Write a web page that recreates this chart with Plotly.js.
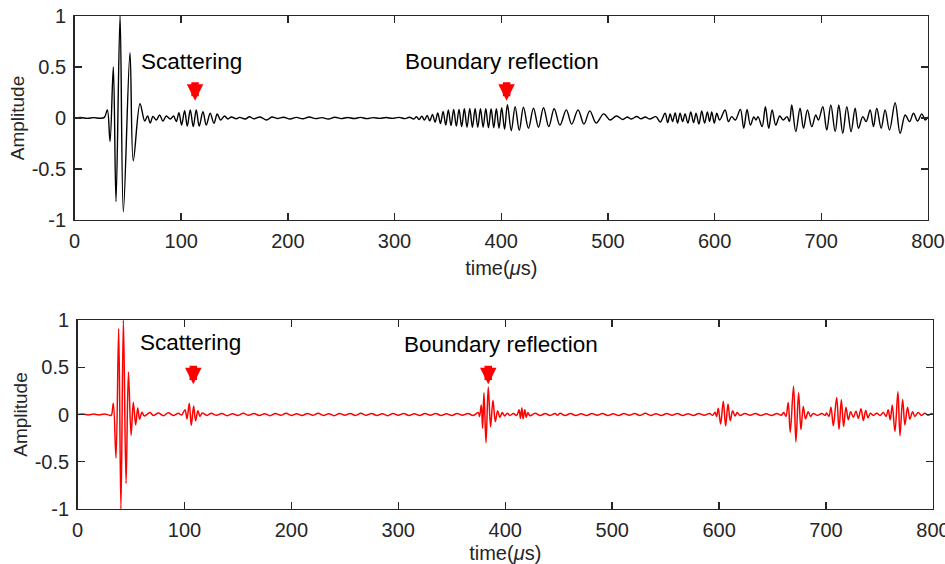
<!DOCTYPE html>
<html><head><meta charset="utf-8">
<script src="https://cdn.plot.ly/plotly-3.0.1.min.js"></script>
<style>html,body{margin:0;padding:0;background:#fff}#chart{width:945px;height:564px}</style>
</head><body><div id="chart"></div>
<script>
// ---- data: waveform extrema, [time (µs), amplitude] ----
const topOnset = [[0,0],[6,0.005],[12,-0.004],[18,0.004],[24,-0.003],[28,0.006],[30.8,0.08],[33.3,-0.23],[36.4,0.5],[38.9,-0.82],[42.7,1.0],[45.8,-0.92],[52,0.64],[55.1,-0.42],[61.4,0.14],[65.8,-0.03],[68.5,0.02],[71,-0.05],[73.5,0.015],[76.7,-0.02],[79.8,0.03],[82.9,-0.03],[86,0.02],[89.8,-0.01],[92.9,0.02],[95.4,-0.035]];
const topScatter = [[97.9,0.052],[100.4,-0.069],[103.2,0.072],[105.7,-0.078],[108.5,0.078],[111.3,-0.085],[114.1,0.078],[116.9,-0.08],[120.4,0.062],[123.5,-0.07],[127.2,0.046],[130.7,-0.052],[133.8,0.039],[136.9,-0.02],[140.6,0.02],[143.8,-0.01],[147,0.01],[151.6,-0.008],[154.7,0.006]];
const topQuiet = [[160,-0.01],[164,0.012],[168,-0.008],[174,0.01],[180,-0.02],[185,0.01],[190,-0.005],[196,0.008],[202,-0.01],[208,0.006],[214,-0.008],[220,0.01],[226,-0.006],[232,0.004],[238,-0.01],[244,0.008],[250,-0.006],[256,0.005],[262,-0.005],[268,0.006],[274,-0.006],[280,0.004],[286,-0.004],[292,0.005],[298,-0.004],[304,0.006],[310,-0.006],[314,0.008],[318,-0.01],[320.5,0.012],[323,-0.015],[325.5,0.018],[328,-0.02],[330.5,0.025],[333,-0.028],[335.5,0.035],[338,-0.04],[340.5,0.05],[343,-0.055],[345.5,0.065],[348,-0.07]];
const topBoundary = [[350.4,0.08],[352.9,-0.075],[355.4,0.085],[357.9,-0.08],[360.4,0.085],[362.9,-0.085],[365.4,0.09],[367.9,-0.09],[370.5,0.09],[373,-0.09],[375.5,0.09],[378,-0.09],[380.5,0.09],[383,-0.09],[385.5,0.09],[388,-0.095],[390.5,0.09],[393,-0.095],[395.4,0.09],[397.9,-0.1],[400.4,0.1],[403.1,-0.11],[405.8,0.13],[409.4,-0.125],[413,0.11],[416.9,-0.12],[420.8,0.105],[425.5,-0.1],[430.2,0.095],[434.9,-0.09],[439.6,0.1],[444.6,-0.085],[449.6,0.09],[455,-0.07],[461,0.08],[466,-0.06],[472,0.08],[477.5,-0.06],[483,0.07],[489,-0.05],[496,0.04],[502,-0.02],[508,0.02],[514,-0.015]];
const topLate = [[518,0.01],[522,-0.01],[527,0.015],[531,-0.008],[535,0.01],[539,-0.01],[545,0.013],[549,-0.04],[553.6,0.046],[556,-0.045],[558.3,0.04],[560.6,-0.035],[563,0.05],[565.3,-0.05],[567.6,0.046],[570,-0.035],[572.3,0.04],[575,-0.05],[577.6,0.06],[580.3,-0.045],[582.6,0.046],[585.3,-0.06],[587.9,0.07],[590.6,-0.05],[593.2,0.06],[595.3,-0.035],[597.3,0.06],[599.7,-0.05],[602,0.046],[604.7,-0.02],[609.8,0.078],[613,-0.035],[616,0.013],[619.4,-0.02],[624.1,0.085],[627.3,-0.1],[630.4,0.085],[633.5,-0.07],[636.7,0.01],[638.8,-0.02],[640.7,0.013],[644.5,-0.085],[647.6,0.11],[650.7,-0.1],[653.9,0.078],[657.3,-0.07],[661,0.02],[664.2,-0.02],[667.9,0.013],[670.1,-0.035],[672.3,0.127],[676.1,-0.134],[680.1,0.095],[683.3,-0.1],[687,0.078],[691.1,-0.085],[694.8,0.03],[697.3,-0.02],[701.4,0.11],[705.1,-0.118],[708.9,0.127],[713,-0.134],[716.4,0.127],[720.1,-0.15],[723.9,0.11],[727.9,-0.134],[731.7,0.095],[734.8,-0.1],[738.9,0.013],[742,-0.035],[745.8,0.078],[748.9,-0.085],[752,0.095],[756.1,-0.1],[759.8,0.078],[763.9,-0.118],[769.2,0.15],[773.9,-0.15],[778.6,0.03],[782.7,-0.035],[786.4,0.046],[790.2,-0.03],[794.2,0.04],[797.4,-0.02],[800,0.01]];

const botOnset = [[0,0],[5,0.004],[10,-0.004],[15,0.005],[20,-0.004],[25,0.004],[29,-0.004],[31.5,-0.01],[33.5,0.12],[36.0,-0.46],[38.5,0.91],[40.6,-1.0],[42.9,1.0],[45.4,-0.73],[47.6,0.45],[50.1,-0.22],[52.2,0.13],[54.4,-0.11],[56.3,0.07],[58.1,-0.05],[60.3,0.025],[62.5,-0.015],[67.8,0.02],[70.9,-0.01],[75.6,0.015],[80.3,-0.012],[84.9,0.018],[89.6,-0.01],[94.3,0.012],[97.4,-0.005]];
const botScatter = [[100.5,0.05],[102.4,-0.045],[104.5,0.12],[106.4,-0.115],[108.6,0.09],[110.4,-0.065],[112.6,0.04],[114.5,-0.02],[116.7,0.015]];
const botQuiet1 = [[121,-0.01],[125,0.012],[130,-0.008],[135,0.01],[140,-0.012],[145,0.008],[150,-0.01],[155,0.012],[160,-0.008],[165,0.01],[170,-0.01],[175,0.008],[180,-0.012],[185,0.01],[190,-0.008],[195,0.012],[200,-0.01],[205,0.008],[210,-0.01],[215,0.01],[220,-0.008],[225,0.012],[230,-0.01],[235,0.008],[240,-0.012],[245,0.01],[250,-0.008],[255,0.01],[260,-0.01],[265,0.012],[270,-0.008],[275,0.01],[280,-0.01],[285,0.008],[290,-0.012],[295,0.01],[300,-0.008],[305,0.01],[310,-0.01],[315,0.008],[320,-0.01],[325,0.01],[330,-0.008],[335,0.01],[340,-0.01],[345,0.008],[350,-0.01],[355,0.01],[360,-0.008],[365,0.01],[370,-0.01]];
const botBoundary = [[374.8,0.02],[375.9,-0.02],[377.6,0.1],[378.8,-0.145],[380.1,0.23],[382,-0.30],[384.1,0.29],[386.3,-0.13],[388.5,0.15],[390.7,-0.075],[392.9,0.04],[395,-0.03],[397.2,0.02],[399.4,-0.015],[401.9,0.014],[404.4,-0.01],[407.6,0.01],[410.7,-0.01],[412.9,0.05],[414.2,-0.04],[415.5,0.07],[416.7,-0.045],[418.3,0.05],[419.6,-0.03],[421.1,0.02],[423.2,-0.014],[428,0.014],[432.6,-0.01],[437.3,0.01],[442,-0.01],[446.6,0.01],[448.8,-0.008],[451.3,0.012],[456,-0.01]];
const botQuiet2 = [[461,0.01],[466,-0.01],[471,0.008],[476,-0.01],[481,0.01],[486,-0.008],[491,0.01],[496,-0.01],[501,0.008],[506,-0.01],[511,0.01],[516,-0.008],[521,0.01],[526,-0.01],[531,0.012],[536,-0.01],[541,0.008],[546,-0.01],[551,0.01],[556,-0.008],[561,0.01],[566,-0.01],[571,0.008],[576,-0.01],[581,0.01],[586,-0.008],[591,0.01],[594,-0.008]];
const botLate = [[596.1,0.025],[597.6,-0.02],[599.2,0.067],[601.4,-0.1],[603.9,0.14],[606.1,-0.12],[608.3,0.11],[610.4,-0.067],[612.6,0.04],[614.8,-0.015],[617,0.02],[619.5,-0.01],[624,0.01],[629,-0.008],[634,0.01],[639,-0.01],[644,0.008],[649,-0.01],[654,0.01],[658,-0.008],[660.5,0.02],[662.5,-0.02],[664.6,0.127],[666.5,-0.19],[669.6,0.30],[671.8,-0.29],[674.3,0.23],[676.5,-0.16],[678.7,0.085],[680.8,-0.045],[683.3,0.03],[685.5,-0.02],[688,0.01],[692,-0.01],[696,0.01],[699,-0.008],[700.5,0.015],[702.7,-0.02],[704.6,0.078],[706.8,-0.12],[709.9,0.18],[712.1,-0.16],[714.3,0.155],[716.4,-0.127],[718.6,0.078],[720.8,-0.056],[723,0.03],[725.5,-0.03],[728,0.035],[730.2,-0.04],[732.7,0.06],[734.9,-0.063],[737.1,0.042],[739.2,-0.035],[741.4,0.014],[744.2,-0.01],[747.4,0.014],[750.5,-0.01],[753.6,0.02],[756.1,-0.02],[758.1,0.05],[760,-0.056],[761.9,0.1],[764.4,-0.18],[767.2,0.24],[769.1,-0.225],[771.6,0.16],[773.7,-0.11],[776.2,0.078],[778.4,-0.05],[780.9,0.03],[783,-0.02],[786.1,0.02],[789.3,-0.01],[792.4,0.014],[795.5,-0.008],[798.6,0.01],[800,0]];

const xTickVals = [0,100,200,300,400,500,600,700,800];
const yTickVals = [-1,-0.5,0,0.5,1];
const yTickText = ['-1','-0.5','0','0.5','1'];
const labelScatter = 'Scattering';
const labelBoundary = 'Boundary reflection';
const xTitle = 'time(<i>μ</i>s)';
const yTitle = 'Amplitude';

// ---- build ----
const topPts = [].concat(topOnset, topScatter, topQuiet, topBoundary, topLate);
const botPts = [].concat(botOnset, botScatter, botQuiet1, botBoundary, botQuiet2, botLate);
const FONT = 'Liberation Sans, Arial, Helvetica, sans-serif';
const AX = '#262626';

const traces = [
  {x: topPts.map(p=>p[0]), y: topPts.map(p=>p[1]), xaxis:'x', yaxis:'y', type:'scatter', mode:'lines',
   line:{color:'#000000', width:1.4, shape:'spline', smoothing:1}, hoverinfo:'skip'},
  {x: botPts.map(p=>p[0]), y: botPts.map(p=>p[1]), xaxis:'x2', yaxis:'y2', type:'scatter', mode:'lines',
   line:{color:'#ff0000', width:1.5, shape:'spline', smoothing:1}, hoverinfo:'skip'}
];

function xAx(domain, anchor){
  return {domain: domain, anchor: anchor, range:[0,800], tickvals:xTickVals, ticktext:xTickVals.map(String),
    showline:true, linecolor:AX, linewidth:1.4, mirror:'ticks', ticks:'inside', ticklen:7, tickwidth:1.4, tickcolor:AX,
    showgrid:false, zeroline:false, ticklabeloverflow:'allow', ticklabelstandoff:3,
    tickfont:{family:FONT, size:20, color:AX},
    title:{text:xTitle, font:{family:FONT, size:20, color:AX}, standoff:9}};
}
function yAx(domain, anchor){
  return {domain: domain, anchor: anchor, range:[-1,1], tickvals:yTickVals, ticktext:yTickText,
    showline:true, linecolor:AX, linewidth:1.4, mirror:'ticks', ticks:'inside', ticklen:7, tickwidth:1.4, tickcolor:AX,
    showgrid:false, zeroline:false, ticklabeloverflow:'allow', ticklabelstandoff:3,
    tickfont:{family:FONT, size:20, color:AX},
    title:{text:yTitle, font:{family:FONT, size:19, color:AX}, standoff:2}};
}

function txt(xref, yref, x, y, t){
  return {xref:xref, yref:yref, x:x, y:y, text:t, showarrow:false, font:{family:FONT, size:22.5, color:'#000'}, xanchor:'center', yanchor:'middle'};
}
function arrow(xref, yref, x, y){
  return {xref:xref, yref:yref, x:x, y:y, text:'', showarrow:true, ax:0, ay:-20, arrowhead:2, arrowwidth:7.5, arrowsize:0.44, arrowcolor:'#ff0000', standoff:0};
}

const layout = {
  width:945, height:564, margin:{l:0, r:0, t:0, b:0}, paper_bgcolor:'#fff', plot_bgcolor:'#fff', showlegend:false,
  font:{family:FONT},
  xaxis: xAx([74.5/945, 928/945], 'y'),
  yaxis: yAx([1-220/564, 1-16/564], 'x'),
  xaxis2: xAx([77.5/945, 933/945], 'y2'),
  yaxis2: yAx([1-509/564, 1-320/564], 'x2'),
  annotations: [
    txt('x','y',110,0.55,labelScatter),
    txt('x','y',400.8,0.55,labelBoundary),
    arrow('x','y',113,0.17),
    arrow('x','y',405,0.17),
    txt('x2','y2',105.2,0.76,labelScatter),
    txt('x2','y2',396.4,0.74,labelBoundary),
    arrow('x2','y2',108.3,0.32),
    arrow('x2','y2',384.1,0.32)
  ]
};
Plotly.newPlot('chart', traces, layout, {staticPlot:true, displayModeBar:false});
</script></body></html>
